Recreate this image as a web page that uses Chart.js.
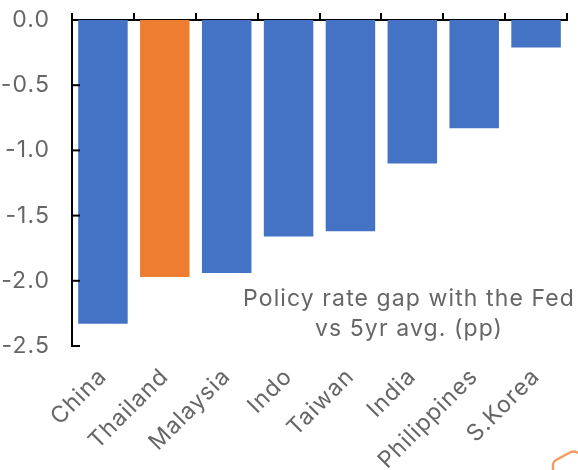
<!DOCTYPE html>
<html>
<head>
<meta charset="utf-8">
<style>
  html, body { margin: 0; padding: 0; background: #fff; overflow: hidden; }
  canvas { display: block; }
  #corner { position: absolute; left: 0; top: 0; pointer-events: none; }
</style>
<script src="https://cdn.jsdelivr.net/npm/chart.js@4"></script>
</head>
<body>
<canvas id="chart" width="578" height="470"></canvas>
<svg id="corner" width="578" height="470">
  <path d="M553 470 L553 464 Q553 462 556 460 L569 453 Q574 450 578 453" fill="none" stroke="#f59a5c" stroke-width="2.4"/>
</svg>
<script>
const categories = ["China", "Thailand", "Malaysia", "Indo", "Taiwan", "India", "Philippines", "S.Korea"];
const gapValues = [-2.33, -1.97, -1.94, -1.66, -1.62, -1.10, -0.83, -0.21];
const highlighted = "Thailand";
const noteLines = ["Policy rate gap with the Fed", "vs 5yr avg. (pp)"];

const FONT = "Inter, 'Noto Sans', sans-serif";
const GREY = "#666666";

// wider set text for the axis labels and the note
const wideText = {
  id: "wideText",
  beforeDraw(chart) {
    chart.ctx.letterSpacing = "1.1px";
  }
};

// y ticks point into the plot, which the scale options can't do
const innerTicks = {
  id: "innerTicks",
  afterDraw(chart) {
    const { ctx, scales } = chart;
    ctx.save();
    ctx.strokeStyle = "#000";
    ctx.lineWidth = 2;
    scales.y.ticks.forEach((t, i) => {
      if (t.value === 0) return;
      const y = scales.y.getPixelForTick(i);
      ctx.beginPath();
      ctx.moveTo(scales.y.right, y);
      ctx.lineTo(scales.y.right + 8, y);
      ctx.stroke();
    });
    ctx.restore();
  }
};

// two line note sitting in the empty lower right of the plot
const note = {
  id: "note",
  afterDraw(chart) {
    const { ctx } = chart;
    ctx.save();
    ctx.font = "23px " + FONT;
    ctx.fillStyle = GREY;
    ctx.textAlign = "center";
    ctx.textBaseline = "alphabetic";
    noteLines.forEach((line, i) => ctx.fillText(line, 409, 306 + i * 30));
    ctx.restore();
  }
};

new Chart(document.getElementById("chart"), {
  type: "bar",
  data: {
    labels: categories,
    datasets: [{
      data: gapValues,
      backgroundColor: categories.map(c => c === highlighted ? "#ED7D31" : "#4472C4"),
      barPercentage: 0.8,
      categoryPercentage: 1,
      xAxisID: "x",
      yAxisID: "y"
    }]
  },
  options: {
    responsive: false,
    animation: false,
    layout: { padding: { top: 0, right: 11, bottom: 0, left: 0 } },
    plugins: { legend: { display: false }, tooltip: { enabled: false } },
    scales: {
      x: {
        position: "bottom",
        border: { display: false },
        grid: { display: false },
        afterFit(scale) {
          scale.height = 124;
          scale.paddingLeft = 0;
          scale.paddingRight = 0;
        },
        ticks: {
          autoSkip: false,
          maxRotation: 45,
          minRotation: 45,
          padding: 9,
          color: GREY,
          font: { family: FONT, size: 23 }
        }
      },
      axisTop: {
        type: "category",
        position: "top",
        labels: categories,
        offset: true,
        border: { color: "#000", width: 2 },
        grid: { drawOnChartArea: false, offset: true, color: "#000", lineWidth: 2, tickLength: 7 },
        afterFit(scale) { scale.height = 20; },
        ticks: { display: false, autoSkip: false }
      },
      y: {
        min: -2.5,
        max: 0,
        border: { color: "#000", width: 2 },
        grid: { display: false },
        afterFit(scale) {
          scale.width = 72;
          scale.paddingTop = 0;
          scale.paddingBottom = 0;
        },
        ticks: {
          stepSize: 0.5,
          padding: 14,
          color: GREY,
          font: { family: FONT, size: 23 },
          callback: v => v.toFixed(1)
        }
      }
    }
  },
  plugins: [wideText, innerTicks, note]
});
</script>
</body>
</html>
